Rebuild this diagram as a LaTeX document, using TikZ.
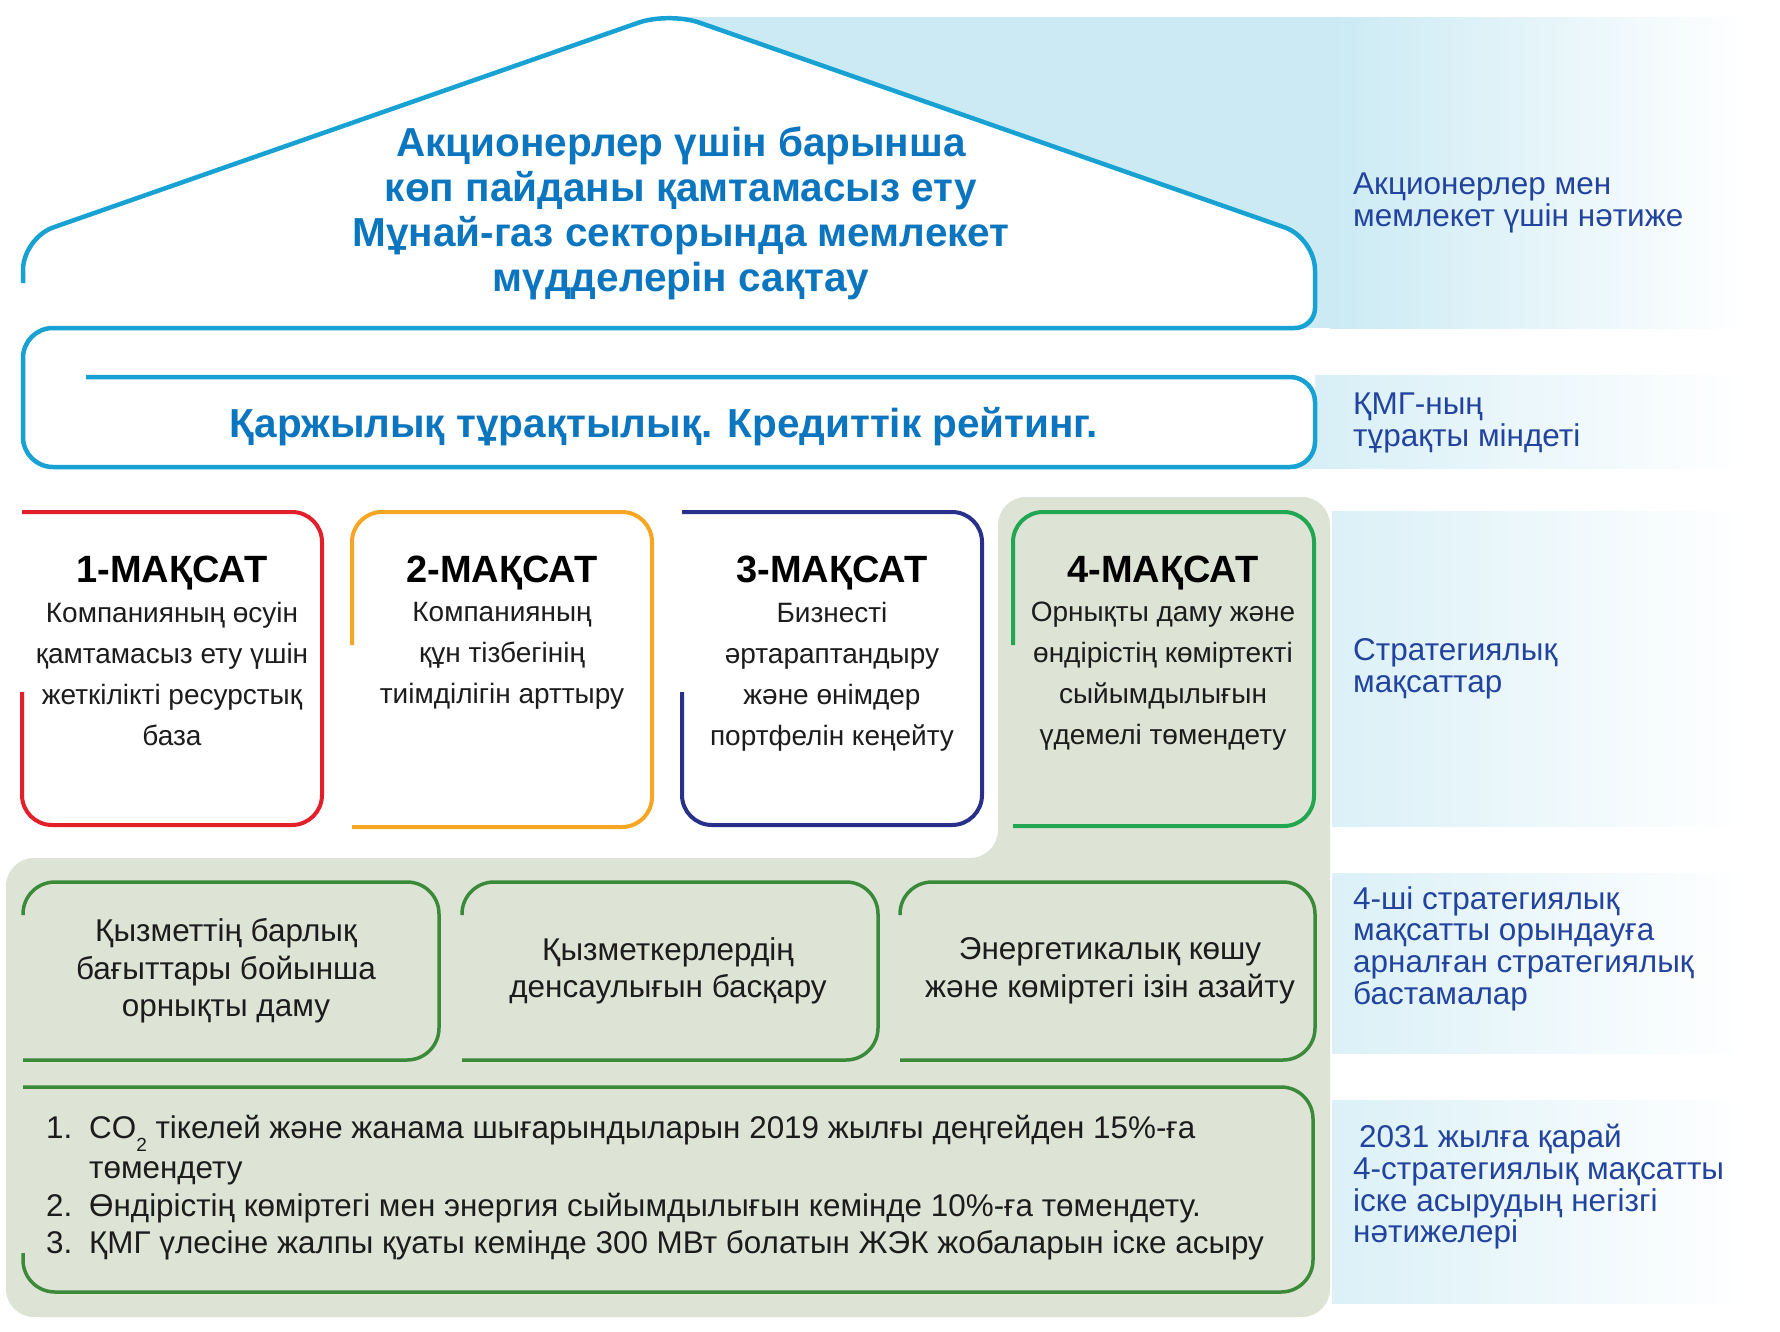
\documentclass[tikz,border=0pt]{standalone}
\usepackage{fontspec}
\setmainfont{Liberation Sans}
\usetikzlibrary{positioning}
\definecolor{kmgline}{HTML}{17A2D3}
\definecolor{kmgtitle}{HTML}{0B76BF}
\definecolor{kmglabel}{HTML}{23449E}
\definecolor{kmgband}{HTML}{CBEAF4}
\definecolor{kmgsage}{HTML}{DDE3D5}
\definecolor{goalred}{HTML}{E3202A}
\definecolor{goalorange}{HTML}{F6A623}
\definecolor{goalnavy}{HTML}{28308C}
\definecolor{goalgreen}{HTML}{21A651}
\definecolor{initgreen}{HTML}{3A8A3A}
\definecolor{kmgtext}{HTML}{1C1C1C}
\newcommand{\cotwo}{CO\raisebox{-0.42em}{\fontsize{19}{19}\selectfont 2}}

\begin{document}
\begin{tikzpicture}[x=1pt, y=-1pt,
  houseline/.style={draw=kmgline, line width=4.5pt},
  goalline/.style={line width=4pt, rounded corners=30pt},
  initline/.style={draw=initgreen, line width=3.5pt, rounded corners=32pt},
  band/.style={left color=kmgband!#1, right color=white},
  titletxt/.style={font=\fontsize{40.5}{45}\selectfont\bfseries, text=kmgtitle, align=center, inner sep=0pt},
  goalhead/.style={font=\fontsize{38}{40}\selectfont\bfseries, text=black, inner sep=0pt},
  goalbody/.style={font=\fontsize{28}{41}\selectfont, text=kmgtext, align=center, inner sep=0pt},
  inittxt/.style={font=\fontsize{31.5}{37.5}\selectfont, text=kmgtext, align=center, inner sep=0pt},
  restxt/.style={font=\fontsize{31.4}{37.8}\selectfont, text=kmgtext, inner sep=0pt},
  sidelbl/.style={font=\fontsize{31.5}{31.8}\selectfont, text=kmglabel, align=left, inner sep=0pt, anchor=north west}
]
\useasboundingbox (0,0) rectangle (1780,1331);
\fill[white] (0,0) rectangle (1780,1331);

% ── Side bands ────────────────────────────────────────────────
\fill[kmgband] (680,17) rectangle (1330,328);
\shade[band=100] (1330,17) rectangle (1745,328);
\shade[band=80] (1293,375) rectangle (1745,468);
\shade[band=70] (1332,511) rectangle (1745,826);
\shade[band=70] (1332,873) rectangle (1745,1053);
\shade[band=70] (1332,1100) rectangle (1745,1303);

% ── Sage panel ────────────────────────────────────────────────
\fill[kmgsage, rounded corners=28pt] (6,858) -- (998,858) -- (998,497) -- (1330,497) -- (1330,1317) -- (6,1317) -- cycle;

% ── House and duty box ────────────────────────────────────────
\fill[white, rounded corners=28pt] (23,328) -- (23,238) -- (669,12) -- (1315,238) -- (1315,328) -- cycle;
\fill[white, rounded corners=28pt] (23,328) rectangle (1315,467);
\draw[houseline] (86,377) [rounded corners=25pt] -- (1315,377) -- (1315,467) [rounded corners=30pt] -- (23,467) -- (23,328) [rounded corners=20pt] -- (1315,328) [rounded corners=32pt] -- (1315,238) -- (669,12) -- (23,238) -- (23,283);

\node[titletxt, anchor=north] (aim) at (681,127) {Акционерлер үшін барынша\\көп пайданы қамтамасыз ету\\Мұнай-газ секторында мемлекет\\мүдделерін сақтау};
\node[titletxt] (duty) at (664,427) {Қаржылық тұрақтылық. Кредиттік рейтинг.};

% ── Strategic goals ───────────────────────────────────────────
\fill[white, rounded corners=30pt] (22,512) rectangle (982,825);
\fill[white] (22,512) rectangle (60,560);
\draw[goalline, draw=goalred] (22,692) -- (22,825) -- (322,825) -- (322,512) -- (22,512);
\draw[goalline, draw=goalorange] (352,645) -- (352,512) -- (652,512) -- (652,827) -- (352,827);
\draw[goalline, draw=goalnavy] (682,692) -- (682,825) -- (982,825) -- (982,512) -- (682,512);
\draw[goalline, draw=goalgreen] (1013,645) -- (1013,512) -- (1314,512) -- (1314,826) -- (1013,826);

\node[goalhead, anchor=base] (g1head) at (172,582) {1-МАҚСАТ};
\node[goalbody, below=12pt of g1head] (g1body) {Компанияның өсуін\\қамтамасыз ету үшін\\жеткілікті ресурстық\\база};
\node[goalhead, anchor=base] (g2head) at (502,582) {2-МАҚСАТ};
\node[goalbody, below=12pt of g2head] (g2body) {Компанияның\\құн тізбегінің\\тиімділігін арттыру};
\node[goalhead, anchor=base] (g3head) at (832,582) {3-МАҚСАТ};
\node[goalbody, below=12pt of g3head] (g3body) {Бизнесті\\әртараптандыру\\және өнімдер\\портфелін кеңейту};
\node[goalhead, anchor=base] (g4head) at (1163,582) {4-МАҚСАТ};
\node[goalbody, below=12pt of g4head] (g4body) {Орнықты даму және\\өндірістің көміртекті\\сыйымдылығын\\үдемелі төмендету};

% ── Initiatives ───────────────────────────────────────────────
\foreach \xl/\xr in {23/439, 462/878, 900/1315}
  \draw[initline] (\xl,915) -- (\xl,882) -- (\xr,882) -- (\xr,1060) -- (\xl,1060);
\node[inittxt] (ini1) at (226,971) {Қызметтің барлық\\бағыттары бойынша\\орнықты даму};
\node[inittxt] (ini2) at (668,971) {Қызметкерлердің\\денсаулығын басқару};
\node[inittxt] (ini3) at (1110,971) {Энергетикалық көшу\\және көміртегі ізін азайту};

% ── Results ───────────────────────────────────────────────────
\draw[initline] (23,1253) -- (23,1292) -- (1313,1292) -- (1313,1087) -- (23,1087);
\node[restxt, anchor=north west] (results) at (46,1112) {%
  \begin{tabular}{@{}p{43pt}@{}l@{}}
  1. & \cotwo{} тікелей және жанама шығарындыларын 2019 жылғы деңгейден 15\%-ға\\
     & төмендету\\
  2. & Өндірістің көміртегі мен энергия сыйымдылығын кемінде 10\%-ға төмендету.\\
  3. & ҚМГ үлесіне жалпы қуаты кемінде 300 МВт болатын ЖЭК жобаларын іске асыру
  \end{tabular}};

% ── Side labels ───────────────────────────────────────────────
\node[sidelbl] (lbl1) at (1353,173) {Акционерлер мен\\мемлекет үшін нәтиже};
\node[sidelbl] (lbl2) at (1353,393) {ҚМГ-ның\\тұрақты міндеті};
\node[sidelbl] (lbl3) at (1353,638) {Стратегиялық\\мақсаттар};
\node[sidelbl] (lbl4) at (1353,886) {4-ші стратегиялық\\мақсатты орындауға\\арналған стратегиялық\\бастамалар};
\node[sidelbl] (lbl5) at (1353,1124) {\hspace{6pt}2031 жылға қарай\\4-стратегиялық мақсатты\\іске асырудың негізгі\\нәтижелері};
\end{tikzpicture}
\end{document}
